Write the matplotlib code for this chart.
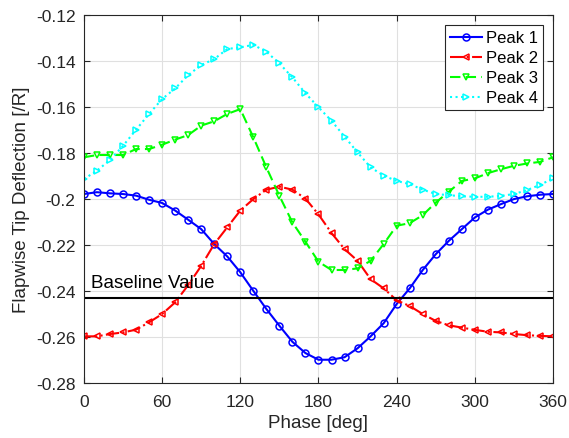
import numpy as np
import matplotlib
matplotlib.use("Agg")
import matplotlib.pyplot as plt

plt.rcParams["font.family"] = ["Liberation Sans", "DejaVu Sans"]

# --- Data ---
phase = np.arange(0, 361, 10)

peak1 = [-0.1978, -0.1970, -0.1975, -0.1978, -0.1985, -0.2003, -0.2017, -0.2050,
         -0.2090, -0.2131, -0.2196, -0.2250, -0.2319, -0.2400, -0.2479, -0.2552,
         -0.2622, -0.2671, -0.2700, -0.2700, -0.2689, -0.2650, -0.2598, -0.2541,
         -0.2457, -0.2389, -0.2309, -0.2240, -0.2182, -0.2131, -0.2080, -0.2046,
         -0.2022, -0.2000, -0.1988, -0.1981, -0.1978]

peak2 = [-0.2598, -0.2598, -0.2588, -0.2581, -0.2569, -0.2537, -0.2501, -0.2450,
         -0.2375, -0.2291, -0.2196, -0.2123, -0.2050, -0.2000, -0.1959, -0.1946,
         -0.1959, -0.1998, -0.2067, -0.2148, -0.2218, -0.2269, -0.2349, -0.2389,
         -0.2441, -0.2466, -0.2501, -0.2531, -0.2550, -0.2560, -0.2570, -0.2578,
         -0.2581, -0.2588, -0.2593, -0.2596, -0.2598]

peak3 = [-0.1818, -0.1808, -0.1808, -0.1808, -0.1782, -0.1782, -0.1763, -0.1741,
         -0.1721, -0.1680, -0.1661, -0.1629, -0.1608, -0.1731, -0.1862, -0.1986,
         -0.2102, -0.2186, -0.2273, -0.2309, -0.2309, -0.2302, -0.2269, -0.2196,
         -0.2116, -0.2105, -0.2070, -0.2015, -0.1968, -0.1921, -0.1910, -0.1887,
         -0.1870, -0.1855, -0.1845, -0.1838, -0.1818]

peak4 = [-0.1913, -0.1876, -0.1830, -0.1768, -0.1698, -0.1629, -0.1564, -0.1518,
         -0.1460, -0.1416, -0.1390, -0.1346, -0.1339, -0.1328, -0.1358, -0.1409,
         -0.1470, -0.1539, -0.1600, -0.1659, -0.1728, -0.1797, -0.1862, -0.1898,
         -0.1921, -0.1935, -0.1959, -0.1978, -0.1983, -0.1988, -0.1990, -0.1990,
         -0.1986, -0.1978, -0.1961, -0.1938, -0.1910]

baseline = -0.2431

# --- Plot ---
fig = plt.figure(figsize=(5.69, 4.39), dpi=100)
ax = fig.add_axes([0.1475, 0.126, 0.8245, 0.8365])

style = dict(mfc="none", ms=5, lw=1.5, mew=1.1)
ax.plot(phase, peak1, "-", color=(0, 0, 1), marker="o", label="Peak 1", **style)
ax.plot(phase, peak2, "-.", color=(1, 0, 0), marker="<", label="Peak 2", **style)
ax.plot(phase, peak3, color=(0, 1, 0), marker="v", dashes=(5, 2.5), label="Peak 3", **style)
ax.plot(phase, peak4, ":", color=(0, 1, 1), marker=">", label="Peak 4", **style)

ax.axhline(baseline, color="k", lw=1.5)
ax.text(5.4, -0.2385, "Baseline Value", fontsize=13.5, va="baseline", ha="left")

ax.set_xlim(0, 360)
ax.set_ylim(-0.28, -0.12)
ax.set_xticks(np.arange(0, 361, 60))
ax.set_yticks(np.arange(-0.28, -0.119, 0.02))
ax.set_yticklabels(["-0.28", "-0.26", "-0.24", "-0.22", "-0.2", "-0.18", "-0.16", "-0.14", "-0.12"])
ax.tick_params(direction="in", labelsize=12.5, top=True, right=True, color="#262626",
               labelcolor="#262626", length=4)
ax.tick_params(axis="x", pad=8)
ax.tick_params(axis="y", pad=6)
ax.grid(True, color="#e0e0e0", lw=0.8)
ax.set_axisbelow(True)
for s in ax.spines.values():
    s.set_color("#262626")

ax.set_xlabel("Phase [deg]", fontsize=13.5, color="#262626", labelpad=4)
ax.set_ylabel("Flapwise Tip Deflection [/R]", fontsize=13.5, color="#262626", labelpad=4)

leg = ax.legend(loc="upper right", fontsize=12, fancybox=False, framealpha=1,
                edgecolor="#262626", borderpad=0.3, labelspacing=0.3,
                handlelength=1.9, handletextpad=0.25, borderaxespad=0.6)
leg.get_frame().set_linewidth(0.8)

fig.savefig("out.png", dpi=100)
